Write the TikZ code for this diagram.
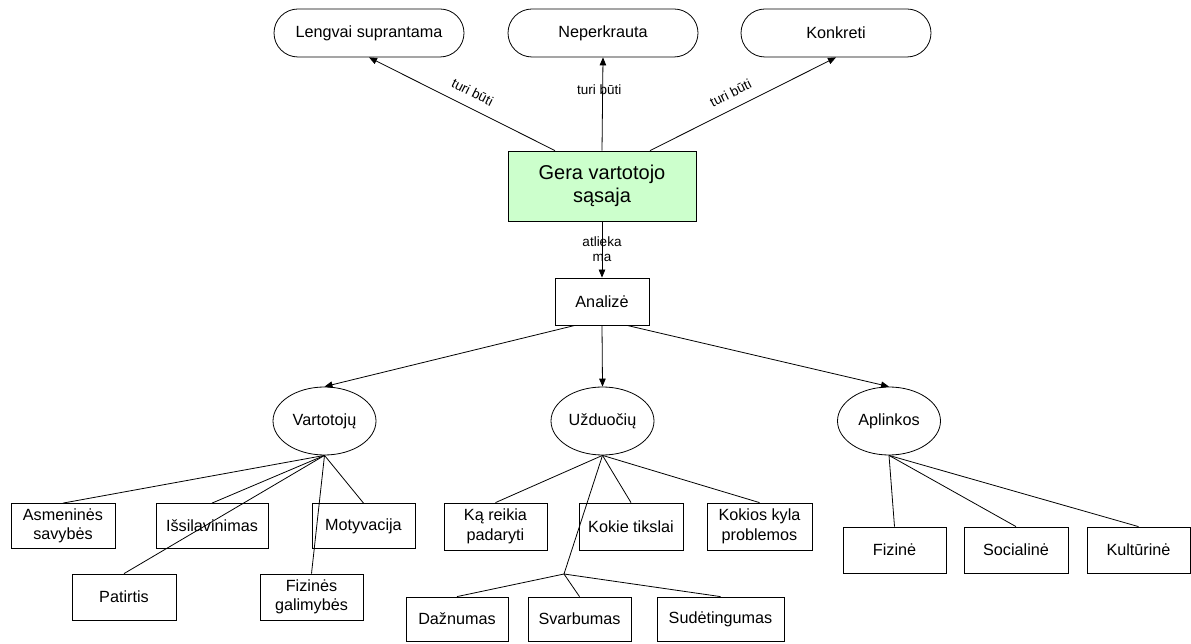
\documentclass[tikz,border=0pt]{standalone}
\usepackage{fontspec}
\setmainfont{Liberation Sans}
\usetikzlibrary{shapes.geometric,shapes.misc,arrows.meta}
\definecolor{palegreen}{HTML}{CCFFCC}
\begin{document}
\begin{tikzpicture}[x=1pt,y=1pt,
  line width=0.8pt,
  base/.style={draw=black, inner sep=0pt, align=center,
    font=\fontsize{16.2}{19.5}\selectfont},
  pill/.style={base, rounded rectangle, minimum width=190pt, minimum height=48pt},
  box/.style={base, rectangle, minimum height=45pt},
  oval/.style={base, ellipse, minimum width=103pt, minimum height=68pt},
  arr/.style={-{Triangle[length=8pt,width=6.5pt]}},
  lbl/.style={font=\fontsize{13.5}{15}\selectfont, inner sep=0pt, align=center},
]
\useasboundingbox (0,0) rectangle (1191,643);

% top level qualities
\node[pill] (len) at (369,610) {Lengvai suprantama};
\node[pill] (nep) at (603,610) {Neperkrauta};
\node[pill] (kon) at (836,610) {Konkreti};

% central concept
\node[base, fill=palegreen, minimum width=188pt, minimum height=70pt,
  font=\fontsize{20}{23.5}\selectfont] (gera) at (602,457) {Gera vartotojo\\sąsaja};

\node[box, minimum width=94pt, minimum height=47pt] (ana) at (602,341.5) {Analizė};

% analysis areas
\node[oval] (vart) at (324.5,222) {Vartotojų};
\node[oval] (uzd)  at (602.5,222) {Užduočių};
\node[oval] (apl)  at (889,222)   {Aplinkos};

% user aspects
\node[box, minimum width=104pt] (asm) at (63,117)    {Asmeninės\\savybės};
\node[box, minimum width=112pt] (iss) at (212,117)   {Išsilavinimas};
\node[box, minimum width=103pt] (mot) at (363.5,117) {Motyvacija};
\node[box, minimum width=104pt, minimum height=46pt] (pat) at (124,46)   {Patirtis};
\node[box, minimum width=103pt, minimum height=46pt] (fiz) at (311.5,46) {Fizinės\\galimybės};

% task aspects
\node[box, minimum width=103pt, minimum height=47pt] (kar) at (495.5,116.5) {Ką reikia\\padaryti};
\node[box, minimum width=104pt, minimum height=47pt] (kok) at (631,116.5)   {Kokie tikslai};
\node[box, minimum width=105pt, minimum height=47pt] (kyl) at (759.5,116.5) {Kokios kyla\\problemos};
\coordinate (jn) at (564,69);
\node[box, minimum width=102pt, minimum height=44pt] (daz) at (457,24)   {Dažnumas};
\node[box, minimum width=103pt, minimum height=44pt] (sva) at (579.5,24) {Svarbumas};
\node[box, minimum width=127pt, minimum height=44pt] (sud) at (720.5,24) {Sudėtingumas};

% environment aspects
\node[box, minimum width=103pt, minimum height=46pt] (fzn) at (894.5,93) {Fizinė};
\node[box, minimum width=104pt, minimum height=46pt] (soc) at (1016,93)  {Socialinė};
\node[box, minimum width=103pt, minimum height=46pt] (kul) at (1138.5,93) {Kultūrinė};

% connectors to the qualities
\draw[arr] ([xshift=-47pt]gera.north) --
  node[lbl, sloped, above=10pt, pos=0.48] {turi būti} (len.south);
\draw[arr] (gera.north) --
  node[lbl, pos=0.65, xshift=-3.5pt] {turi būti} (nep.south);
\draw[arr] ([xshift=48pt]gera.north) --
  node[lbl, sloped, above=10pt, pos=0.47] {turi būti} (kon.south);

\draw[arr] (gera.south) -- node[lbl, pos=0.5] {atlieka\\ma} (ana.north);

\draw[arr] ([xshift=-27pt]ana.south) -- (vart.north);
\draw[arr] (ana.south) -- (uzd.north);
\draw[arr] ([xshift=25pt]ana.south) -- (apl.north);

% user branch
\foreach \t in {asm,iss,mot,pat,fiz} \draw (vart.south) -- (\t.north);
% task branch
\foreach \t in {kar,kok,kyl} \draw (uzd.south) -- (\t.north);
\draw (uzd.south) -- (jn);
\foreach \t in {daz,sva,sud} \draw (jn) -- (\t.north);
% environment branch
\foreach \t in {fzn,soc,kul} \draw (apl.south) -- (\t.north);
\end{tikzpicture}
\end{document}
